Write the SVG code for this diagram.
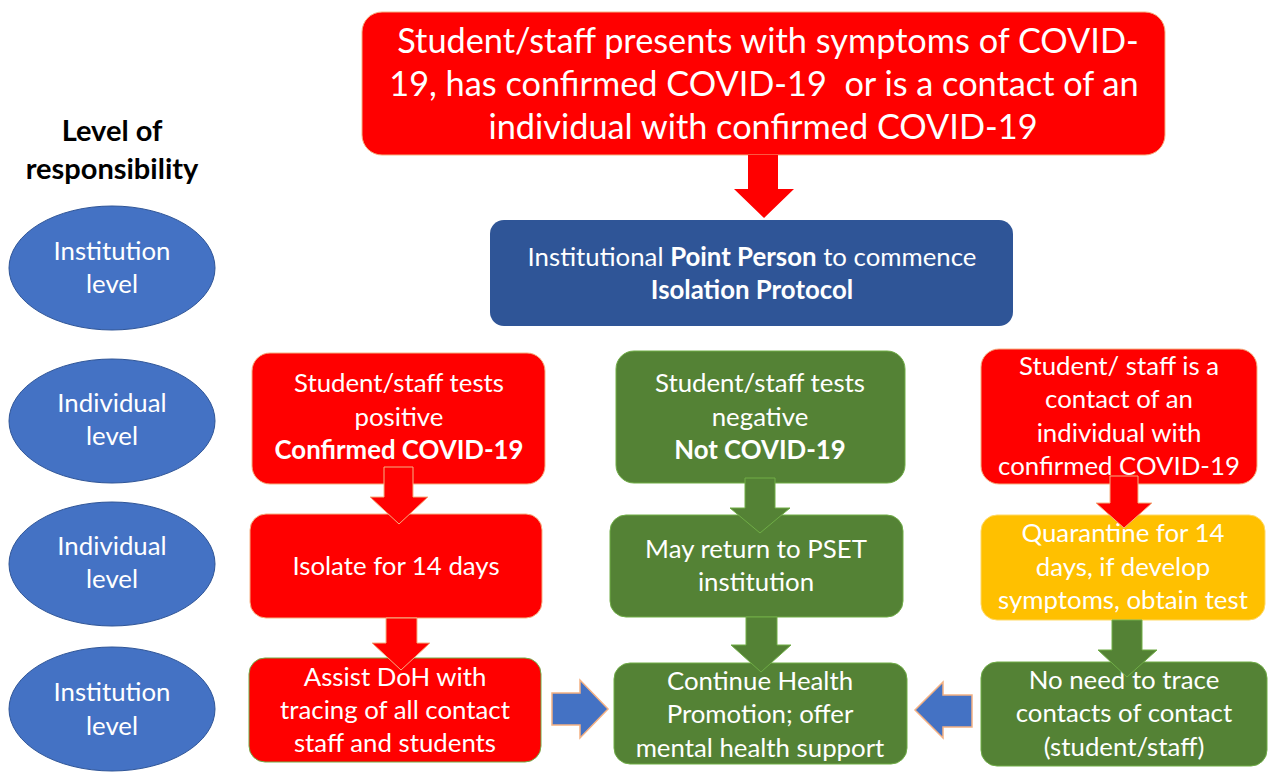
<svg xmlns="http://www.w3.org/2000/svg" width="1272" height="774" viewBox="0 0 1272 774">
<style>
text{font-family:"Lato","Open Sans","Liberation Sans",sans-serif;fill:#fff;text-anchor:middle}
.t{font-size:25.8px}
.b{font-weight:bold}
.big{font-size:34.3px}
.hd{fill:#000;font-size:29px;font-weight:bold}
.red{fill:#FF0000;stroke:#F4B183;stroke-width:1}
.grn{fill:#548235;stroke:#70AD47;stroke-width:1}
.ylw{fill:#FFC000;stroke:#FFD966;stroke-width:1}
.blu{fill:#2F5597}
.ell{fill:#4472C4;stroke:#2F5597;stroke-width:1}
.ar{fill:#FF0000;stroke:#F4B183;stroke-width:1}
.ag{fill:#548235;stroke:#70AD47;stroke-width:1}
.ab{fill:#4472C4;stroke:#F4B183;stroke-width:1.5}
</style>
<rect width="1272" height="774" fill="#fff"/>
<g id="heading">
<text class="hd" x="112" y="141">Level of</text>
<text class="hd" x="112" y="179">responsibility</text>
</g>
<g id="lvl1"><ellipse class="ell" cx="112" cy="268" rx="103" ry="62"/><text class="t" x="112" y="260">Institution</text><text class="t" x="112" y="293">level</text></g>
<g id="lvl2"><ellipse class="ell" cx="112" cy="421" rx="103" ry="62"/><text class="t" x="112" y="412">Individual</text><text class="t" x="112" y="445">level</text></g>
<g id="lvl3"><ellipse class="ell" cx="112" cy="564" rx="103" ry="62"/><text class="t" x="112" y="555">Individual</text><text class="t" x="112" y="588">level</text></g>
<g id="lvl4"><ellipse class="ell" cx="112" cy="709" rx="103" ry="62"/><text class="t" x="112" y="701">Institution</text><text class="t" x="112" y="735">level</text></g>

<g id="start"><rect class="red" x="362" y="12" width="803" height="143" rx="20"/>
<text class="big" x="768" y="53">Student/staff presents with symptoms of COVID-</text>
<text class="big" x="764" y="96" xml:space="preserve">19, has confirmed COVID-19  or is a contact of an</text>
<text class="big" x="763" y="139">individual with confirmed COVID-19</text></g>

<g id="point"><rect class="blu" x="490" y="220" width="523" height="106" rx="14"/>
<text class="t" x="752" y="266">Institutional <tspan class="b">Point Person</tspan> to commence</text>
<text class="t b" x="752" y="299">Isolation Protocol</text></g>

<g id="pos"><rect class="red" x="252" y="353" width="293" height="131" rx="18"/>
<text class="t" x="399" y="392">Student/staff tests</text><text class="t" x="399" y="426">positive</text><text class="t b" x="399" y="459">Confirmed COVID-19</text></g>
<g id="isolate"><rect class="red" x="250" y="514" width="292" height="104" rx="16"/>
<text class="t" x="396" y="575">Isolate for 14 days</text></g>
<g id="assist"><rect x="249" y="658" width="292" height="104" rx="16" fill="#FF0000" stroke="#70AD47"/>
<text class="t" x="395" y="686">Assist DoH with</text><text class="t" x="395" y="719">tracing of all contact</text><text class="t" x="395" y="752">staff and students</text></g>

<g id="neg"><rect class="grn" x="616" y="351" width="289" height="132" rx="18"/>
<text class="t" x="760" y="392">Student/staff tests</text><text class="t" x="760" y="426">negative</text><text class="t b" x="760" y="459">Not COVID-19</text></g>
<g id="return"><rect class="grn" x="610" y="515" width="293" height="102" rx="16"/>
<text class="t" x="756" y="558">May return to PSET</text><text class="t" x="756" y="591">institution</text></g>
<g id="promo"><rect class="grn" x="614" y="663" width="293" height="101" rx="16"/>
<text class="t" x="760" y="690">Continue Health</text><text class="t" x="760" y="723">Promotion; offer</text><text class="t" x="760" y="757">mental health support</text></g>

<g id="contact"><rect class="red" x="981" y="349" width="276" height="135" rx="18"/>
<text class="t" x="1119" y="375">Student/ staff is a</text><text class="t" x="1119" y="408">contact of an</text><text class="t" x="1119" y="442">individual with</text><text class="t" x="1119" y="475">confirmed COVID-19</text></g>
<g id="quarantine"><rect class="ylw" x="981" y="515" width="284" height="105" rx="16"/>
<text class="t" x="1123" y="542">Quarantine for 14</text><text class="t" x="1123" y="576">days, if develop</text><text class="t" x="1123" y="609">symptoms, obtain test</text></g>
<g id="notrace"><rect class="grn" x="981" y="662" width="286" height="104" rx="16"/>
<text class="t" x="1124" y="689">No need to trace</text><text class="t" x="1124" y="722">contacts of contact</text><text class="t" x="1124" y="756">(student/staff)</text></g>

<g id="connectors">
<polygon fill="#FF0000" points="748,155 778,155 778,189 794,189 764,218 734,189 748,189"/>
<polygon class="ar" points="384,467 413,467 413,497 428,497 399,524 370,497 384,497"/>
<polygon class="ar" points="386,618 417,618 417,643 430,643 401,670 372,643 386,643"/>
<polygon class="ag" points="745,478 775,478 775,508 790,508 760,533 730,508 745,508"/>
<polygon class="ag" points="746,617 777,617 777,645 791,645 761,672 731,645 746,645"/>
<polygon class="ar" points="1110,476 1138,476 1138,503 1152,503 1124,528 1096,503 1110,503"/>
<polygon class="ag" points="1112,620 1142,620 1142,650 1157,650 1127,677 1098,650 1112,650"/>
<polygon class="ab" points="552,693 580,693 580,680 608,709 580,738 580,725 552,725"/>
<polygon class="ab" points="972,695 943,695 943,682 915,710 943,738 943,727 972,727"/>
</g>
</svg>
